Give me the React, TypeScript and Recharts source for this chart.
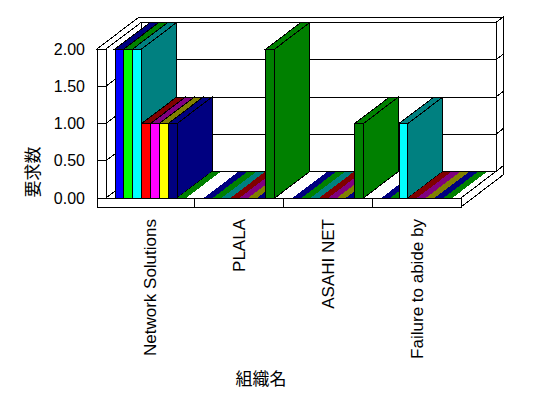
import React from 'react';
import { BarChart, Bar, XAxis, YAxis, Customized } from 'recharts';

// ---- data ----
const categories = ['Network Solutions', 'PLALA', 'ASAHI NET', 'Failure to abide by'];
const seriesKeys = ['s1', 's2', 's3', 's4', 's5', 's6', 's7', 's8'];
const series1 = [2, 0, 0, 0];
const series2 = [2, 0, 0, 0];
const series3 = [2, 0, 0, 1];
const series4 = [1, 0, 0, 0];
const series5 = [1, 0, 0, 0];
const series6 = [1, 0, 0, 0];
const series7 = [1, 0, 0, 0];
const series8 = [0, 2, 1, 0];
const yTicks = [0, 0.5, 1, 1.5, 2];
const frontColors = ['#0000FF', '#00FF00', '#00FFFF', '#FF0000', '#FF00FF', '#FFFF00', '#000080', '#008000'];
const darkColors = ['#000080', '#008000', '#008080', '#800000', '#800080', '#808000', '#000080', '#008000'];
const xTitle = '組織名';
const yTitle = '要求数';

const allSeries = [series1, series2, series3, series4, series5, series6, series7, series8];
const data = categories.map((name, i) => {
  const row: any = { name };
  seriesKeys.forEach((k, j) => (row[k] = allSeries[j][i]));
  return row;
});

// ---- layout ----
const CHART_W = 548;
const CHART_H = 398;
const PLOT_L = 106;
const PLOT_T = 49;
const PLOT_R = 461;
const PLOT_B = 198;
const DX = 35;
const DY = -26.5;
const TX = 7;
const TY = -5.5;
const WALL = 9;
const FLOOR = 9;
const BAND = (PLOT_R - PLOT_L) / categories.length;
const BAR_SIZE = (BAND * 0.8) / seriesKeys.length;
const Y_MAX = 2;
const LATIN = '"Liberation Sans", Arial, sans-serif';
const CJK = '"Noto Sans CJK JP", "Noto Sans CJK SC", sans-serif';

const yPix = (v: number) => PLOT_B - (v / Y_MAX) * (PLOT_B - PLOT_T);

const S = { stroke: '#000', strokeWidth: 1, shapeRendering: 'crispEdges' as const };

function Walls() {
  const bl = PLOT_L + DX;
  const br = PLOT_R + DX;
  const bt = PLOT_T + DY;
  const bb = PLOT_B + DY;
  const inner = yTicks.filter((v) => v > 0 && v < Y_MAX);
  return (
    <g>
      {/* back wall right face */}
      <polygon points={`${br},${bt} ${br + TX},${bt + TY} ${br + TX},${bb + TY} ${br},${bb}`} fill="#fff" {...S} />
      {/* back wall front face */}
      <rect x={bl} y={bt} width={br - bl} height={bb - bt} fill="#fff" {...S} />
      {/* left wall inner face */}
      <polygon points={`${PLOT_L},${PLOT_T} ${bl},${bt} ${bl},${bb} ${PLOT_L},${PLOT_B}`} fill="#fff" {...S} />
      {/* wall top (L shaped) */}
      <polygon
        points={`${PLOT_L - WALL},${PLOT_T} ${PLOT_L},${PLOT_T} ${bl},${bt} ${br},${bt} ${br + TX},${bt + TY} ${PLOT_L - WALL + DX + TX},${bt + TY}`}
        fill="#fff"
        {...S}
      />
      {/* left wall front face */}
      <rect x={PLOT_L - WALL} y={PLOT_T} width={WALL} height={PLOT_B - PLOT_T} fill="#fff" {...S} />
      {/* floor top */}
      <polygon points={`${PLOT_L},${PLOT_B} ${PLOT_R},${PLOT_B} ${br},${bb} ${bl},${bb}`} fill="#fff" {...S} />
      {/* floor front */}
      <rect x={PLOT_L - WALL} y={PLOT_B} width={PLOT_R - PLOT_L + WALL} height={FLOOR} fill="#fff" {...S} />
      {/* floor right */}
      <polygon
        points={`${PLOT_R},${PLOT_B} ${br + TX},${bb + TY} ${br + TX},${bb + TY + FLOOR} ${PLOT_R},${PLOT_B + FLOOR}`}
        fill="#fff"
        {...S}
      />
      {/* category dividers */}
      {categories.slice(1).map((_, i) => {
        const x = PLOT_L + (i + 1) * BAND;
        return <line key={'d' + i} x1={x} y1={PLOT_B} x2={x} y2={PLOT_B + FLOOR} {...S} />;
      })}
      {/* gridlines */}
      {inner.map((v) => {
        const y = yPix(v);
        return (
          <g key={'g' + v}>
            <line x1={bl} y1={y + DY} x2={br} y2={y + DY} {...S} />
            <line x1={br} y1={y + DY} x2={br + TX} y2={y + DY + TY} {...S} />
            <line x1={PLOT_L} y1={y} x2={bl} y2={y + DY} {...S} />
            <line x1={PLOT_L - WALL} y1={y} x2={PLOT_L} y2={y} {...S} />
          </g>
        );
      })}
    </g>
  );
}

function Titles() {
  return (
    <g>
      <text
        x={261}
        y={377}
        textAnchor="middle"
        dominantBaseline="central"
        fontSize={17}
        fontFamily={CJK}
        fill="#000"
      >
        {xTitle}
      </text>
      <text
        x={31}
        y={172}
        textAnchor="middle"
        dominantBaseline="central"
        fontSize={17}
        fontFamily={CJK}
        fill="#000"
        transform="rotate(-90, 31, 172)"
      >
        {yTitle}
      </text>
    </g>
  );
}

function Box3D(props: any) {
  const { x, y, width, height, front, dark } = props;
  const w = width;
  const h = height || 0;
  if (!(h > 0.5)) {
    const yb = y + h;
    return (
      <polygon
        points={`${x},${yb} ${x + w},${yb} ${x + w + DX},${yb + DY} ${x + DX},${yb + DY}`}
        fill={dark}
        shapeRendering="crispEdges"
      />
    );
  }
  return (
    <g>
      <polygon
        points={`${x + w},${y} ${x + w + DX},${y + DY} ${x + w + DX},${y + h + DY} ${x + w},${y + h}`}
        fill={dark}
        {...S}
      />
      <polygon points={`${x},${y} ${x + w},${y} ${x + w + DX},${y + DY} ${x + DX},${y + DY}`} fill={dark} {...S} />
      <rect x={x} y={y} width={w} height={h} fill={front} {...S} />
    </g>
  );
}

function CatTick(props: any) {
  const { x, y, payload } = props;
  const bx = x + 6;
  const ty = y + 21;
  return (
    <text
      x={bx}
      y={ty}
      transform={`rotate(-90, ${bx}, ${ty})`}
      textAnchor="end"
      fontSize={17}
      fontFamily={LATIN}
      fill="#000"
    >
      {payload.value}
    </text>
  );
}

export default function App() {
  return (
    <div style={{ position: 'absolute', left: 0, top: 0, width: CHART_W, height: CHART_H, background: '#fff' }}>
      <BarChart
        width={CHART_W}
        height={CHART_H}
        data={data}
        margin={{ top: PLOT_T, right: CHART_W - PLOT_R, bottom: 0, left: 0 }}
        barSize={BAR_SIZE}
        barGap={0}
      >
        <Customized component={<Walls />} />
        <XAxis
          dataKey="name"
          axisLine={false}
          tickLine={false}
          tickSize={0}
          tickMargin={0}
          height={CHART_H - PLOT_B}
          interval={0}
          tick={<CatTick />}
        />
        <YAxis
          domain={[0, Y_MAX]}
          ticks={yTicks}
          tickFormatter={(v: number) => v.toFixed(2)}
          axisLine={false}
          tickLine={false}
          tickSize={0}
          tickMargin={21}
          width={PLOT_L}
          tick={{ fontSize: 16, fill: '#000', fontFamily: LATIN }}
        />
        {seriesKeys.map((k, j) => (
          <Bar
            key={k}
            dataKey={k}
            isAnimationActive={false}
            shape={(p: any) => <Box3D {...p} front={frontColors[j]} dark={darkColors[j]} />}
          />
        ))}
        <Customized component={<Titles />} />
      </BarChart>
    </div>
  );
}
